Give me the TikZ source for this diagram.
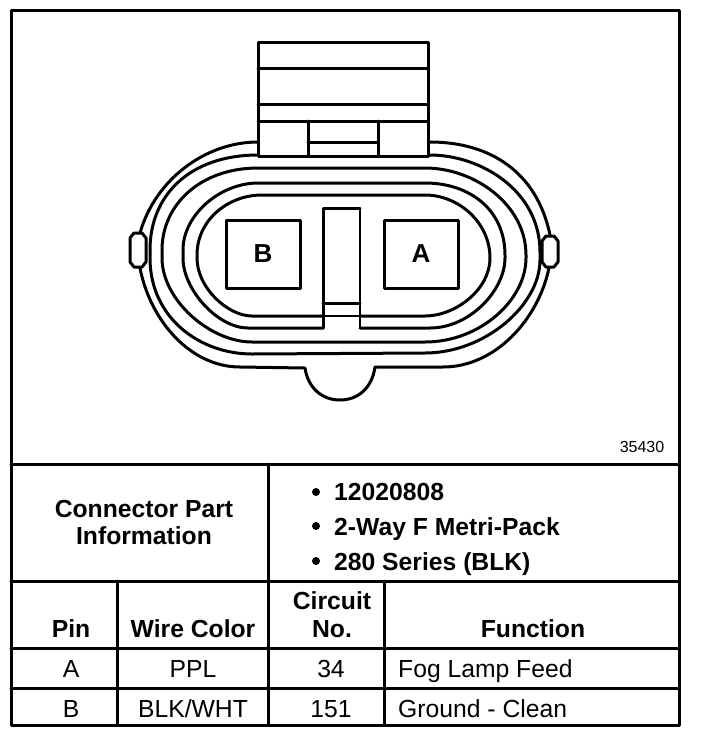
\documentclass[tikz,border=0pt]{standalone}
\usepackage{fontspec}
\setmainfont{Liberation Sans}
\tikzset{
  heavy/.style={line width=3pt, line cap=round, line join=round},
  slim/.style={line width=1.6pt},
  headtext/.style={font=\fontsize{24.7}{27}\selectfont\bfseries, anchor=base, inner sep=0pt},
  celltext/.style={font=\fontsize{24.7}{27}\selectfont, anchor=base, inner sep=0pt},
  pinlabel/.style={font=\fontsize{26}{30}\selectfont\bfseries, inner sep=0pt}
}
\begin{document}
\begin{tikzpicture}[x=1pt,y=-1pt]
\useasboundingbox (0,0) rectangle (704,740);

% connector body
\draw[heavy] (258,142) .. controls (205,142) and (155,180) .. (140,233);
\draw[heavy] (430,142) .. controls (490,142) and (537,172) .. (550,235);
\draw[heavy] (140,268) .. controls (150,320) and (190,367) .. (240,367) -- (305,368)
  .. controls (308,388) and (322,400) .. (340,400)
  .. controls (358,400) and (372,388) .. (375,367) -- (443,367)
  .. controls (495,367) and (538,320) .. (549,268);

\draw[heavy] (130,238) -- (134,233) -- (142,233) -- (146,238) -- (146,262) -- (142,267) -- (134,267) -- (130,262) -- cycle;
\draw[heavy] (542,241) -- (546,236) -- (554,236) -- (558,241) -- (558,262) -- (554,267) -- (546,267) -- (542,262) -- cycle;

% rings
\draw[heavy] (258,155) -- (430,155) .. controls (480,155) and (540,190) .. (540,252) -- (540,260)
  .. controls (540,305) and (485,353) .. (425,353) -- (252,354)
  .. controls (200,354) and (150,318) .. (150,258) -- (150,250)
  .. controls (150,195) and (190,155) .. (258,155) -- cycle;
\draw[heavy] (258,168) -- (425,168) .. controls (475,168) and (526,205) .. (526,255) -- (526,258)
  .. controls (526,300) and (480,342) .. (425,342) -- (252,342)
  .. controls (210,342) and (162,300) .. (162,258) -- (162,250)
  .. controls (162,205) and (200,168) .. (258,168) -- cycle;
\draw[heavy] (262,195) -- (425,195) .. controls (458,195) and (490,222) .. (490,258)
  .. controls (490,290) and (455,316) .. (425,316) -- (252,316)
  .. controls (228,316) and (197,288) .. (197,258) -- (197,255)
  .. controls (197,220) and (228,195) .. (262,195) -- cycle;

% inner ring stops at the slot
\draw[heavy] (323,328) -- (248,328) .. controls (218,328) and (183,290) .. (183,258) -- (183,250)
  .. controls (183,215) and (220,183) .. (258,183) -- (425,183)
  .. controls (470,183) and (505,210) .. (505,255) -- (505,258)
  .. controls (505,290) and (470,328) .. (430,328) -- (360,328);

% latch on top
\draw[heavy, fill=white] (258,156) -- (258,42) -- (428,42) -- (428,156) -- cycle;
\draw[heavy] (258,68) -- (428,68);
\draw[heavy] (258,104) -- (428,104);
\draw[heavy] (258,121) -- (428,121);
\draw[heavy] (308,121) -- (308,156);
\draw[heavy] (378,121) -- (378,156);
\draw[heavy] (308,142) -- (378,142);

% slot and cavities
\fill[white] (323,208) rectangle (360,328);
\draw[heavy] (323,328) -- (323,208) -- (360,208);
\draw[slim] (360,208) -- (360,328);
\draw[heavy] (323,303) -- (360,303);
\draw[slim] (323,316) -- (360,316);

\node[draw, heavy, minimum width=74pt, minimum height=68pt, pinlabel] (cavB) at (263,254) {B};
\node[draw, heavy, minimum width=74pt, minimum height=68pt, pinlabel] (cavA) at (421,254) {A};

\node[font=\fontsize{16}{18}\selectfont, inner sep=0pt] (partno) at (642,447) {35430};

% frame and table rules
\draw[heavy] (11,10) rectangle (679,725);
\draw[heavy] (11,464) -- (679,464);
\draw[heavy] (11,581) -- (679,581);
\draw[heavy] (11,648) -- (679,648);
\draw[heavy] (11,688) -- (679,688);
\draw[heavy] (268,464) -- (268,725);
\draw[heavy] (117,581) -- (117,725);
\draw[heavy] (384,581) -- (384,725);

\node[headtext] (partinfoA) at (144,517) {Connector Part};
\node[headtext] (partinfoB) at (144,544) {Information};
\node[headtext, anchor=base west] (info1) at (334,500) {12020808};
\node[headtext, anchor=base west] (info2) at (334,535) {2-Way F Metri-Pack};
\node[headtext, anchor=base west] (info3) at (334,570) {280 Series (BLK)};
\foreach \ypos in {492,526,561}
  \fill (316,\ypos) circle (4);

\node[headtext] (pinhead) at (71,637) {Pin};
\node[headtext] (wirehead) at (193,637) {Wire Color};
\node[headtext] (circuitheadA) at (332,609) {Circuit};
\node[headtext] (circuitheadB) at (332,637) {No.};
\node[headtext] (funchead) at (533,637) {Function};

\node[celltext] (pinA) at (71,677) {A};
\node[celltext] (wireA) at (193,677) {PPL};
\node[celltext] (circuitA) at (331,677) {34};
\node[celltext, anchor=base west] (funcA) at (398,677) {Fog Lamp Feed};

\node[celltext] (pinB) at (71,717) {B};
\node[celltext] (wireB) at (193,717) {BLK/WHT};
\node[celltext] (circuitB) at (331,717) {151};
\node[celltext, anchor=base west] (funcB) at (398,717) {Ground - Clean};

\end{tikzpicture}
\end{document}
